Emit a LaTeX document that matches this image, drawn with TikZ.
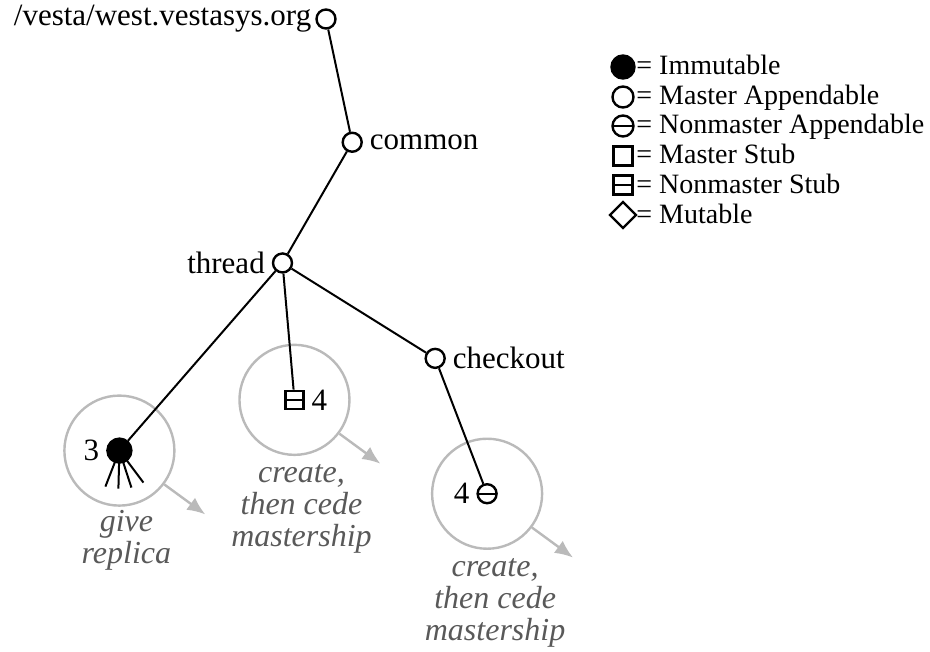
\documentclass[tikz,border=0pt]{standalone}
\usepackage{fontspec}
\setmainfont{Liberation Serif}
\usetikzlibrary{shapes.geometric,arrows.meta,backgrounds,positioning}
\tikzset{
  sym/.style={draw,line width=1.2pt,inner sep=0pt},
  mapp/.style={sym,circle,fill=white,minimum size=9.5pt},
  immut/.style={sym,circle,fill=black,minimum size=12pt},
  nmapp/.style={mapp,path picture={\draw[line width=1.2pt]
      (path picture bounding box.west) -- (path picture bounding box.east);}},
  mstub/.style={sym,rectangle,fill=white,minimum size=9pt},
  nmstub/.style={mstub,path picture={\draw[line width=1.2pt]
      (path picture bounding box.west) -- (path picture bounding box.east);}},
  mutable/.style={sym,diamond,fill=white,minimum size=13.5pt},
  halo/.style={circle,draw=black!27,line width=1.2pt,minimum size=55pt,inner sep=0pt},
  handoff/.style={draw=black!27,line width=1.2pt,-{Latex[length=9pt,width=7.5pt]}},
  remark/.style={text=black!65,font=\fontsize{16pt}{16pt}\selectfont\itshape,
    align=center,inner sep=0pt},
  keytext/.style={anchor=base west,inner sep=0pt,font=\fontsize{14pt}{15pt}\selectfont}
}
\begin{document}
\begin{tikzpicture}[x=0.5pt,y=0.5pt,font=\fontsize{15.5pt}{16pt}\selectfont,
    sibling distance=0pt,edge from parent/.style={draw,line width=1pt}]
  \useasboundingbox (0,0) rectangle (930,-652);
  \node[mapp,label={[label distance=-1.5pt]left:/vesta/west.vestasys.org}] (root) at (326,-19) {}
    child[grow=-78,level distance=63pt] {node[mapp,label=right:common] (common) {}
      child[grow=-120.6,level distance=69.7pt] {node[mapp,label=left:thread] (thread) {}
        child[grow=-131.2,level distance=124.3pt] {node[immut,label=left:3] (given) {}}
        child[grow=-85.8,level distance=68.7pt] {node[nmstub,label=right:4] (stub) {}}
        child[grow=-32.3,level distance=90pt] {node[mapp,label=right:checkout] (checkout) {}
          child[grow=-69.3,level distance=72.5pt] {node[nmapp,label=left:4] (copy) {}}
        }
      }
    };
  % the replica fans out
  \foreach \dx/\dy in {-14/-36,-1/-38,12/-37,24/-32}
    \draw[line width=1pt] (given.center) -- +(\dx,\dy);

  \begin{scope}[on background layer]
    \node[halo] (gring) at (given) {};
    \node[halo] (sring) at (stub) {};
    \node[halo] (cring) at (copy) {};
  \end{scope}
  \draw[handoff] (gring.-37) -- +(41,-30);
  \draw[handoff] (sring.-37) -- +(41,-30);
  \draw[handoff] (cring.-37) -- +(41,-30);
  \node[remark,below=1.5pt of gring,xshift=3.5pt] {give\\replica};
  \node[remark,below=4pt of sring,xshift=3.5pt] {create,\\then cede\\mastership};
  \node[remark,below=4pt of cring,xshift=4pt] {create,\\then cede\\mastership};

  % key
  \node[immut,minimum size=11.5pt] (k1) at (623,-67) {};
  \node[keytext] at (636,-75) {= Immutable};
  \node[mapp,minimum size=10.5pt] (k2) at (623,-97) {};
  \node[keytext] at (636,-105) {= Master Appendable};
  \node[nmapp,minimum size=10.5pt] (k3) at (623,-126) {};
  \node[keytext] at (636,-134) {= Nonmaster Appendable};
  \node[mstub,minimum size=9.5pt] (k4) at (623,-156) {};
  \node[keytext] at (636,-164) {= Master Stub};
  \node[nmstub,minimum size=9.5pt] (k5) at (623,-185) {};
  \node[keytext] at (636,-193) {= Nonmaster Stub};
  \node[mutable] (k6) at (623,-215) {};
  \node[keytext] at (636,-223) {= Mutable};
\end{tikzpicture}
\end{document}
